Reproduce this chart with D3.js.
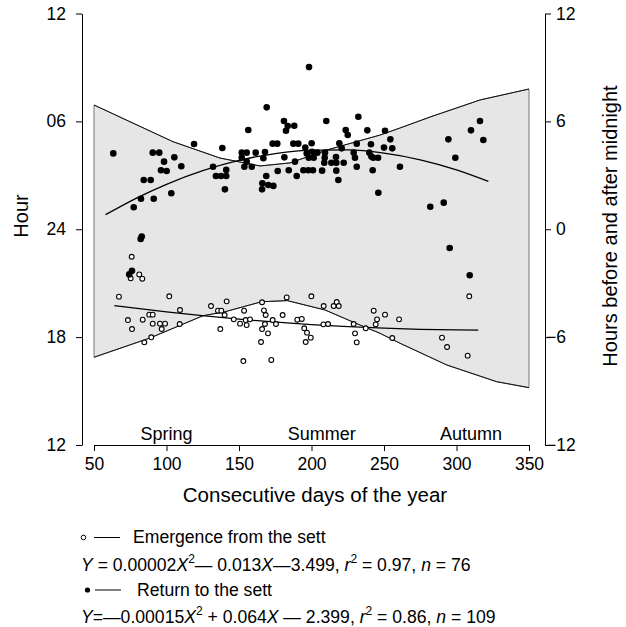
<!DOCTYPE html>
<html>
<head>
<meta charset="utf-8">
<script src="https://cdn.jsdelivr.net/npm/d3@7"></script>
<style>
  body { margin: 0; background: #fff; }
  svg { display: block; font-family: "Liberation Sans", Arial, sans-serif; }
</style>
</head>
<body>
<div id="chart"></div>
<script>
// return to the sett (filled dots): day of year, hours relative to midnight
const returnDays = [63.3,90.5,95.0,98.3,105.4,96.2,100.1,110.2,119.0,138.5,
  132.1,134.1,137.6,141.2,141.2,140.3,156.4,151.9,155.3,161.5,
  151.9,155.3,153.7,158.8,84.3,89.1,82.4,91.2,103.3,77.4,
  82.9,82.2,76.2,74.3,198.3,169.1,181.0,183.6,188.1,182.4,
  210.2,232.3,223.6,225.0,238.5,250.7,254.4,173.2,176.4,187.5,
  190.9,200.1,195.7,219.2,220.8,231.2,241.0,250.0,255.7,167.9,
  166.8,181.3,188.6,196.7,200.4,198.1,201.5,204.0,209.3,209.1,
  208.8,216.9,213.7,217.1,222.2,229.1,230.0,231.2,239.9,241.3,
  242.6,245.9,261.0,168.8,166.1,165.9,170.2,173.7,176.7,184.3,
  189.8,194.4,197.8,201.0,207.3,217.1,218.5,242.2,246.1,294.4,
  310.0,316.2,318.5,299.2,281.9,291.2,295.3,309.1];
const returnHours = [4.22,4.26,4.26,3.76,4.00,3.28,3.24,3.50,4.74,4.52,
  3.48,2.96,2.96,3.30,2.96,2.22,5.52,4.26,4.26,4.26,
  3.98,3.76,3.48,3.48,2.74,2.74,1.70,1.70,2.00,1.22,
  -0.41,-0.54,-2.31,-2.51,9.02,6.78,6.02,5.74,5.76,5.48,
  6.02,6.26,5.52,5.24,5.50,5.48,5.00,4.76,4.76,4.76,
  4.76,4.78,4.54,4.78,4.50,4.76,4.73,4.54,4.50,4.30,
  3.95,4.00,3.76,4.22,4.31,3.98,3.98,4.26,4.26,3.98,
  3.70,4.02,3.70,3.70,3.70,4.26,3.98,3.48,4.26,4.04,
  3.98,3.98,3.48,2.96,2.56,2.22,2.46,2.41,3.24,3.28,
  2.96,3.28,3.28,3.28,3.26,3.26,2.74,3.28,2.03,5.00,
  5.50,6.02,4.96,3.98,1.25,1.48,-1.04,-2.56];

// emergence from the sett (open dots)
const emergenceDays = [76.0,75.3,81.2,83.3,67.2,101.9,109.3,88.1,90.5,73.4,
  83.6,76.2,90.5,95.5,99.0,96.7,109.1,84.7,89.5,130.7,
  135.5,137.8,141.5,140.1,137.1,146.4,150.7,153.5,154.6,155.3,
  157.6,153.0,165.9,167.2,168.4,165.9,167.9,170.0,165.2,173.2,
  175.5,180.1,182.9,172.3,190.2,193.3,195.0,196.9,199.5,196.0,
  199.9,208.4,208.2,211.4,215.3,217.4,218.8,229.1,230.0,231.2,
  237.4,242.9,245.2,244.3,250.7,255.7,260.4,308.8,290.0,293.5,307.7];
const emergenceHours = [-1.53,-2.73,-2.51,-2.75,-3.75,-3.73,-4.49,-4.75,-4.75,-5.05,
  -5.03,-5.55,-5.25,-5.25,-5.25,-5.55,-5.27,-6.29,-6.01,-4.27,
  -4.53,-4.53,-4.01,-4.77,-5.55,-5.01,-5.25,-4.53,-5.05,-5.33,
  -5.01,-7.33,-4.06,-4.51,-4.77,-5.55,-5.27,-5.79,-6.27,-5.05,
  -5.27,-4.77,-3.79,-7.27,-5.03,-4.99,-5.51,-5.75,-6.03,-6.27,
  -3.73,-4.27,-5.29,-5.27,-4.27,-4.05,-4.27,-5.27,-5.79,-6.29,
  -5.51,-4.53,-5.01,-5.29,-4.75,-6.05,-5.01,-3.73,-6.03,-6.55,-7.03];

// night band: sunrise (top) and sunset (bottom)
const sunriseDays = [50,104.5,136.9,164.5,185.2,210.7,247.3,261.0,281.7,316.2,350];
const sunriseHours = [6.91,4.87,3.96,3.52,3.69,4.41,5.24,5.63,6.24,7.19,7.80];
const sunsetDays = [50,88.6,125.2,140.3,165.7,183.3,209.3,233.5,247.3,261.0,293.3,327.7,350];
const sunsetHours = [-7.12,-6.05,-4.81,-4.59,-4.03,-3.97,-4.49,-5.33,-5.79,-6.34,-7.55,-8.48,-8.81];

// fitted curves
const returnFitDays = [58,80,100,125,150,175,200,225,250,275,300,322];
const returnFitHours = [0.81,1.76,2.50,3.26,3.83,4.21,4.40,4.41,4.23,3.86,3.30,2.66];
const emergenceFitDays = [64,100,150,200,250,300,315];
const emergenceFitHours = [-4.25,-4.60,-5.00,-5.30,-5.50,-5.60,-5.61];

const xTicks = [50,100,150,200,250,300,350];
const yTicks = [12,6,0,-6,-12];
const hourLabels = ['12','06','24','18','12'];
const seasons = ['Spring','Summer','Autumn'];
const seasonDays = [100,207,310];

const width = 626, height = 627;
const svg = d3.select('#chart').append('svg')
  .attr('width', width).attr('height', height);

const x = d3.scaleLinear().domain([50,350]).range([94,529]);
const y = d3.scaleLinear().domain([-12,12]).range([445,13.5]);

// band
const sunrisePts = sunriseDays.map((d,i) => [d, sunriseHours[i]]);
const sunsetPts = sunsetDays.map((d,i) => [d, sunsetHours[i]]);
const bandPts = sunrisePts.concat(sunsetPts.slice().reverse());
const line = d3.line().x(d => x(d[0])).y(d => y(d[1]));
svg.append('path')
  .attr('d', line(bandPts) + 'Z')
  .attr('fill', '#e6e6e6')
  .attr('stroke', '#555')
  .attr('stroke-width', 0.8);

[sunrisePts, sunsetPts].forEach(pts => {
  svg.append('path').attr('d', line(pts))
    .attr('fill', 'none').attr('stroke', '#111').attr('stroke-width', 1);
});

// fit curves
const smooth = d3.line().x(d => x(d[0])).y(d => y(d[1])).curve(d3.curveMonotoneX);
svg.append('path')
  .attr('d', smooth(returnFitDays.map((d,i) => [d, returnFitHours[i]])))
  .attr('fill', 'none').attr('stroke', '#000').attr('stroke-width', 1.3);
svg.append('path')
  .attr('d', smooth(emergenceFitDays.map((d,i) => [d, emergenceFitHours[i]])))
  .attr('fill', 'none').attr('stroke', '#000').attr('stroke-width', 1.3);

// points
svg.append('g').selectAll('circle')
  .data(emergenceDays.map((d,i) => [d, emergenceHours[i]]))
  .enter().append('circle')
  .attr('cx', d => x(d[0])).attr('cy', d => y(d[1]))
  .attr('r', 2.4)
  .attr('fill', '#fff').attr('stroke', '#000').attr('stroke-width', 1.1);

svg.append('g').selectAll('circle')
  .data(returnDays.map((d,i) => [d, returnHours[i]]))
  .enter().append('circle')
  .attr('cx', d => x(d[0])).attr('cy', d => y(d[1]))
  .attr('r', 3.3)
  .attr('fill', '#000');

// axes
const leftAxis = svg.append('g')
  .attr('transform', 'translate(82,0)')
  .call(d3.axisLeft(y).tickValues(yTicks).tickFormat((d,i) => hourLabels[i])
    .tickSize(6).tickSizeOuter(0).tickPadding(10));
leftAxis.selectAll('text').attr('font-size', 17.5).attr('fill', '#000');

const bottomAxis = svg.append('g')
  .attr('transform', 'translate(0,445)')
  .call(d3.axisBottom(x).tickValues(xTicks).tickSize(6).tickSizeOuter(0).tickPadding(7));
bottomAxis.selectAll('text').attr('font-size', 17.5).attr('fill', '#000');

const rightAxis = svg.append('g')
  .attr('transform', 'translate(545,0)')
  .call(d3.axisRight(y).tickValues(yTicks).tickFormat(d => d < 0 ? '\u2212' + Math.abs(d) : d)
    .tickSize(6).tickSizeOuter(0));
rightAxis.selectAll('text')
  .attr('font-size', 17.5).attr('fill', '#000')
  .attr('text-anchor', 'start')
  .attr('x', d => d < 0 ? 1 : 11);

svg.selectAll('.tick text').attr('font-family', '"Liberation Sans", Arial, sans-serif');
svg.selectAll('.domain, .tick line').attr('stroke', '#000');

// season labels
svg.append('g').selectAll('text')
  .data(seasons).enter().append('text')
  .attr('x', (d,i) => x(seasonDays[i])).attr('y', 440)
  .attr('text-anchor', 'middle').attr('font-size', 18)
  .text(d => d);

// axis titles
svg.append('text')
  .attr('transform', 'translate(28,216) rotate(-90)')
  .attr('text-anchor', 'middle').attr('font-size', 20)
  .text('Hour');
svg.append('text')
  .attr('transform', 'translate(617,226) rotate(-90)')
  .attr('text-anchor', 'middle').attr('font-size', 20)
  .text('Hours before and after midnight');
svg.append('text')
  .attr('x', 315).attr('y', 502)
  .attr('text-anchor', 'middle').attr('font-size', 20.5)
  .text('Consecutive days of the year');

// legend
const legend = svg.append('g').attr('font-size', 17.6);
legend.append('circle').attr('cx', 83.5).attr('cy', 537.5).attr('r', 2.3)
  .attr('fill', '#fff').attr('stroke', '#000').attr('stroke-width', 1);
legend.append('line').attr('x1', 94).attr('x2', 120).attr('y1', 537.5).attr('y2', 537.5)
  .attr('stroke', '#000').attr('stroke-width', 1);
legend.append('text').attr('x', 133).attr('y', 543).text('Emergence from the sett');

legend.append('circle').attr('cx', 87.5).attr('cy', 590).attr('r', 2.6).attr('fill', '#000');
legend.append('line').attr('x1', 95).attr('x2', 121).attr('y1', 590).attr('y2', 590)
  .attr('stroke', '#000').attr('stroke-width', 1);
legend.append('text').attr('x', 137).attr('y', 596).text('Return to the sett');

function equation(yPos, parts) {
  const t = legend.append('text').attr('x', 81).attr('y', yPos);
  parts.forEach(p => {
    const s = t.append('tspan').text(p.t);
    if (p.i) s.attr('font-style', 'italic');
    if (p.sup) s.attr('font-size', 12).attr('dy', -8);
    if (p.down) s.attr('dy', 8);
  });
}
equation(571, [
  {t: 'Y', i: true}, {t: ' = 0.00002'}, {t: 'X', i: true}, {t: '2', sup: true},
  {t: '\u2014 0.013', down: true}, {t: 'X', i: true}, {t: '\u20143.499, '},
  {t: 'r', i: true}, {t: '2', sup: true}, {t: ' = 0.97, ', down: true},
  {t: 'n', i: true}, {t: ' = 76'}
]);
equation(623, [
  {t: 'Y', i: true}, {t: '=\u20140.00015'}, {t: 'X', i: true}, {t: '2', sup: true},
  {t: ' + 0.064', down: true}, {t: 'X', i: true}, {t: ' \u2014 2.399, '},
  {t: 'r', i: true}, {t: '2', sup: true}, {t: ' = 0.86, ', down: true},
  {t: 'n', i: true}, {t: ' = 109'}
]);
</script>
</body>
</html>
